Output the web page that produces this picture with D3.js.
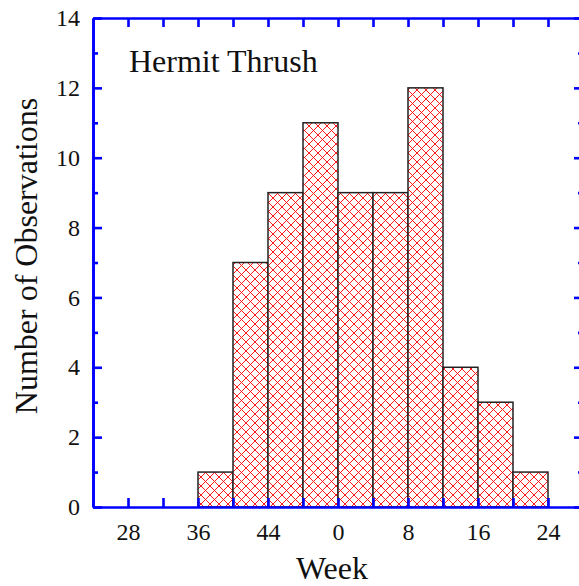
<!DOCTYPE html>
<html>
<head>
<meta charset="utf-8">
<script src="https://cdn.jsdelivr.net/npm/d3@7"></script>
<style>
  html, body { margin: 0; padding: 0; background: #fff; overflow: hidden; }
  text { font-family: "Liberation Serif", "Times New Roman", serif; fill: #111; }
</style>
</head>
<body>
<div id="chart"></div>
<script>
// weeks run on past 52 (52 = week 0 of the next year)
var binStarts = [36, 40, 44, 48, 52, 56, 60, 64, 68, 72];
var counts = [1, 7, 9, 11, 9, 9, 12, 4, 3, 1];
var binWidth = 4;

var xTicks = [28, 32, 36, 40, 44, 48, 52, 56, 60, 64, 68, 72, 76];
var xTickLabels = ["28", "", "36", "", "44", "", "0", "", "8", "", "16", "", "24"];
var yMajor = [0, 2, 4, 6, 8, 10, 12, 14];
var yMinor = [1, 3, 5, 7, 9, 11, 13];

var svgWidth = 579;
var svgHeight = 586;
var margin = { top: 18, left: 93 };
var width = 490;
var height = 489;

var svg = d3.select("#chart")
  .append("svg")
  .attr("width", svgWidth)
  .attr("height", svgHeight);

// crosshatch fill
var pat = svg.append("defs").append("pattern")
  .attr("id", "hatch")
  .attr("patternUnits", "userSpaceOnUse")
  .attr("width", 9)
  .attr("height", 9);
pat.append("rect").attr("width", 9).attr("height", 9).attr("fill", "#fff");
pat.append("path")
  .attr("d", "M0,0L9,9M9,0L0,9M-1,8L1,10M8,-1L10,1M-1,1L1,-1M8,10L10,8")
  .attr("stroke", "#f00")
  .attr("stroke-width", 0.9);

var chartGroup = svg.append("g")
  .attr("transform", `translate(${margin.left}, ${margin.top})`);

var x = d3.scaleLinear().domain([24, 80]).range([0, width]);
var y = d3.scaleLinear().domain([0, 14]).range([height, 0]);

// bars
chartGroup.selectAll("rect.bar")
  .data(counts)
  .enter().append("rect")
  .attr("class", "bar")
  .attr("x", (d, i) => x(binStarts[i]))
  .attr("width", (d, i) => x(binStarts[i] + binWidth) - x(binStarts[i]))
  .attr("y", d => y(d))
  .attr("height", d => y(0) - y(d))
  .attr("fill", "url(#hatch)")
  .attr("stroke", "#222")
  .attr("stroke-width", 1.5);

function styleAxis(g) {
  g.selectAll("path.domain").attr("stroke", "#0000ff").attr("stroke-width", 2.6);
  g.selectAll(".tick line").attr("stroke", "#0000ff").attr("stroke-width", 2.6);
  g.selectAll(".tick text")
    .attr("font-family", "Liberation Serif, Times New Roman, serif")
    .attr("font-size", 24)
    .attr("fill", "#111");
}

// bottom
chartGroup.append("g")
  .attr("transform", `translate(0, ${height})`)
  .call(d3.axisBottom(x).tickValues(xTicks)
    .tickFormat((d, i) => xTickLabels[i])
    .tickSizeInner(-9).tickSizeOuter(0).tickPadding(16))
  .call(styleAxis)
  .selectAll(".tick text").attr("dy", "0.71em");

// top
chartGroup.append("g")
  .call(d3.axisTop(x).tickValues(xTicks).tickFormat("")
    .tickSizeInner(-9).tickSizeOuter(0))
  .call(styleAxis);

// left
chartGroup.append("g")
  .call(d3.axisLeft(y).tickValues(yMajor).tickFormat(d3.format("d"))
    .tickSizeInner(-9).tickSizeOuter(0).tickPadding(13))
  .call(styleAxis);
chartGroup.append("g")
  .call(d3.axisLeft(y).tickValues(yMinor).tickFormat("")
    .tickSizeInner(-5).tickSizeOuter(0))
  .call(styleAxis);

// right
chartGroup.append("g")
  .attr("transform", `translate(${width}, 0)`)
  .call(d3.axisRight(y).tickValues(yMajor).tickFormat("")
    .tickSizeInner(-9).tickSizeOuter(0))
  .call(styleAxis);
chartGroup.append("g")
  .attr("transform", `translate(${width}, 0)`)
  .call(d3.axisRight(y).tickValues(yMinor).tickFormat("")
    .tickSizeInner(-5).tickSizeOuter(0))
  .call(styleAxis);

// labels
chartGroup.append("text")
  .attr("x", 36)
  .attr("y", 54)
  .attr("font-size", 32)
  .text("Hermit Thrush");

svg.append("text")
  .attr("transform", "translate(37, 256) rotate(-90)")
  .attr("text-anchor", "middle")
  .attr("font-size", 32)
  .text("Number of Observations");

svg.append("text")
  .attr("x", 332)
  .attr("y", 579)
  .attr("text-anchor", "middle")
  .attr("font-size", 32)
  .text("Week");
</script>
</body>
</html>
